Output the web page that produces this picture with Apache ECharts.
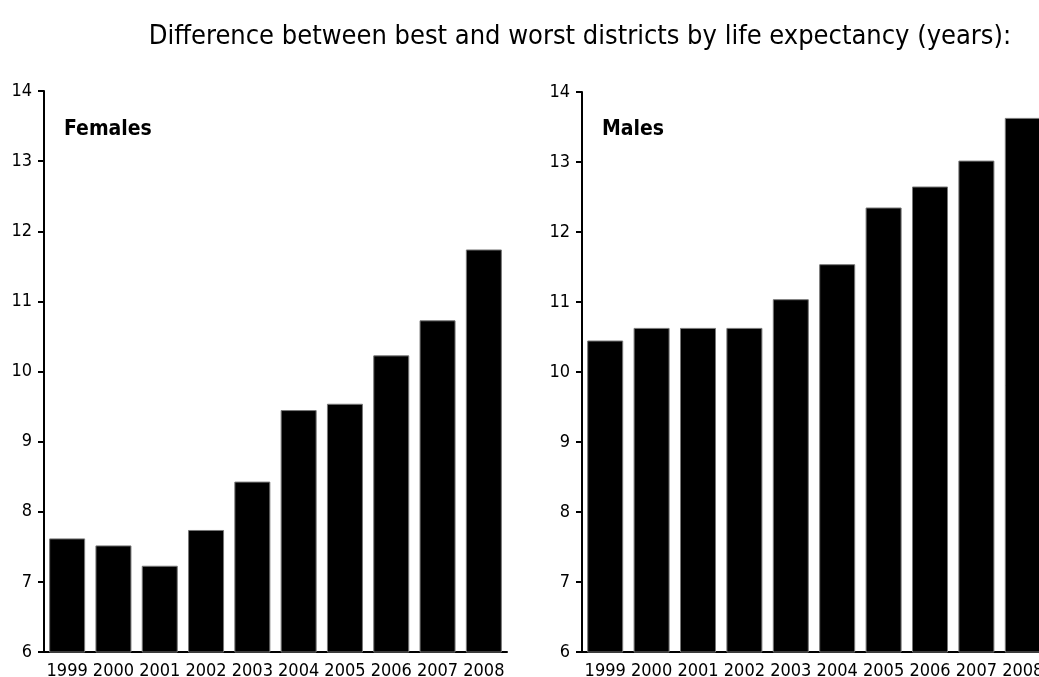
<!DOCTYPE html>
<html>
<head>
<meta charset="utf-8">
<script src="https://cdn.jsdelivr.net/npm/echarts@6/dist/echarts.min.js"></script>
<style>
  html, body { margin: 0; padding: 0; background: #fff; }
  #chart { width: 1039px; height: 677px; }
</style>
</head>
<body>
<div id="chart"></div>
<script>
// years on the x axis
const years = ["1999", "2000", "2001", "2002", "2003", "2004", "2005", "2006", "2007", "2008"];
// gap between best and worst district, years
const females = [7.62, 7.52, 7.23, 7.74, 8.43, 9.45, 9.54, 10.23, 10.73, 11.74];
const males = [10.45, 10.63, 10.63, 10.63, 11.04, 11.54, 12.35, 12.65, 13.02, 13.63];

const font = "DejaVu Sans Condensed";

function xAxisFor(idx) {
  return {
    type: "category",
    gridIndex: idx,
    data: years,
    axisLine: { lineStyle: { color: "#000", width: 2 } },
    axisTick: { length: 6, lineStyle: { color: "#000", width: 2 } },
    axisLabel: { color: "#000", fontFamily: font, fontSize: 18, margin: 10, interval: 0 }
  };
}
function yAxisFor(idx) {
  return {
    type: "value",
    gridIndex: idx,
    min: 6,
    max: 14,
    interval: 1,
    splitLine: { show: false },
    axisLine: { show: true, lineStyle: { color: "#000", width: 2 } },
    axisTick: { show: true, length: 6, lineStyle: { color: "#000", width: 2 } },
    axisLabel: { color: "#000", fontFamily: font, fontSize: 18, margin: 12 }
  };
}

const chart = echarts.init(document.getElementById("chart"));
chart.setOption({
  animation: false,
  title: [
    {
      text: "Difference between best and worst districts by life expectancy (years):",
      left: 580, top: 23, textAlign: "center", padding: 0,
      textStyle: { fontFamily: font, fontSize: 27, fontWeight: "normal", color: "#000" }
    },
    { text: "Females", left: 64, top: 119, padding: 0, textStyle: { fontFamily: font, fontSize: 21, fontWeight: "bold", color: "#000" } },
    { text: "Males", left: 602, top: 119, padding: 0, textStyle: { fontFamily: font, fontSize: 21, fontWeight: "bold", color: "#000" } }
  ],
  grid: [
    { left: 44, top: 91, width: 463, height: 561, outerBoundsMode: "none" },
    { left: 582, top: 92, width: 464, height: 560, outerBoundsMode: "none" }
  ],
  xAxis: [xAxisFor(0), xAxisFor(1)],
  yAxis: [yAxisFor(0), yAxisFor(1)],
  series: [
    {
      type: "bar", xAxisIndex: 0, yAxisIndex: 0, data: females, barWidth: 36,
      itemStyle: { color: "#000", borderColor: "#777", borderWidth: 1 }
    },
    {
      type: "bar", xAxisIndex: 1, yAxisIndex: 1, data: males, barWidth: 36,
      itemStyle: { color: "#000", borderColor: "#777", borderWidth: 1 }
    }
  ]
});
</script>
</body>
</html>
